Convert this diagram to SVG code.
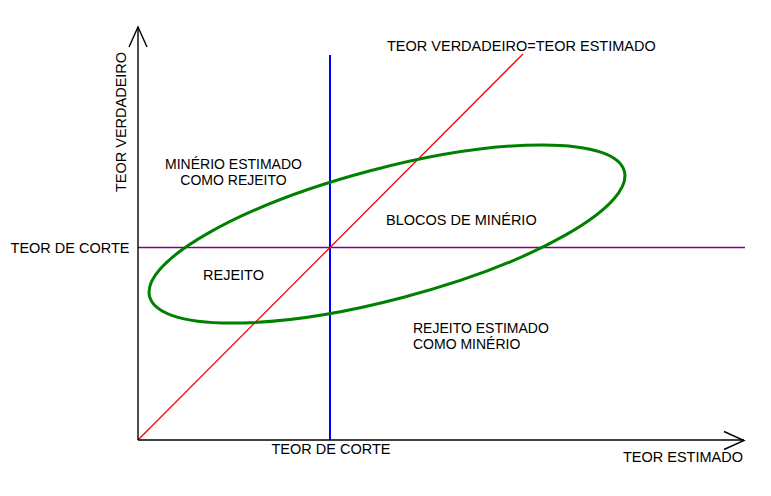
<svg xmlns="http://www.w3.org/2000/svg" width="771" height="496" viewBox="0 0 771 496">
<style>
text{font-family:"Liberation Sans",Arial,sans-serif;font-size:14.5px;fill:#000}
.two{font-size:14px}
.ax{stroke:#000;stroke-width:1.4;fill:none}
</style>
<rect width="771" height="496" fill="#fff"/>
<g id="connectors">
<line x1="330" y1="55" x2="330" y2="440" stroke="#0000ff" stroke-width="2"/>
<line x1="138" y1="247.5" x2="745" y2="247.5" stroke="#800080" stroke-width="1.3"/>
<line x1="138" y1="440" x2="523" y2="54" stroke="#ff0000" stroke-width="1.3"/>
<ellipse cx="387" cy="234" rx="245.5" ry="65.4" transform="rotate(-14.8 387 234)" fill="none" stroke="#008000" stroke-width="3"/>
<line class="ax" x1="138" y1="440" x2="138" y2="27"/>
<polyline class="ax" points="129,47 138,27 147,47"/>
<line class="ax" x1="138" y1="440" x2="744" y2="440"/>
<polyline class="ax" points="724,431.5 744,440.5 724,449.5"/>
</g>
<g id="labels">
<text transform="translate(126 122) rotate(-90)" text-anchor="middle">TEOR VERDADEIRO</text>
<text x="387" y="51">TEOR VERDADEIRO=TEOR ESTIMADO</text>
<text class="two" text-anchor="middle"><tspan x="233.5" y="168.5">MINÉRIO ESTIMADO</tspan><tspan x="233.5" y="184.5">COMO REJEITO</tspan></text>
<text x="386" y="225">BLOCOS DE MINÉRIO</text>
<text x="203" y="279.5">REJEITO</text>
<text class="two"><tspan x="413" y="332.5">REJEITO ESTIMADO</tspan><tspan x="413" y="348.5">COMO MINÉRIO</tspan></text>
<text x="129.5" y="252.7" text-anchor="end">TEOR DE CORTE</text>
<text x="331" y="453.5" text-anchor="middle">TEOR DE CORTE</text>
<text x="743" y="461.7" text-anchor="end">TEOR ESTIMADO</text>
</g>
</svg>
